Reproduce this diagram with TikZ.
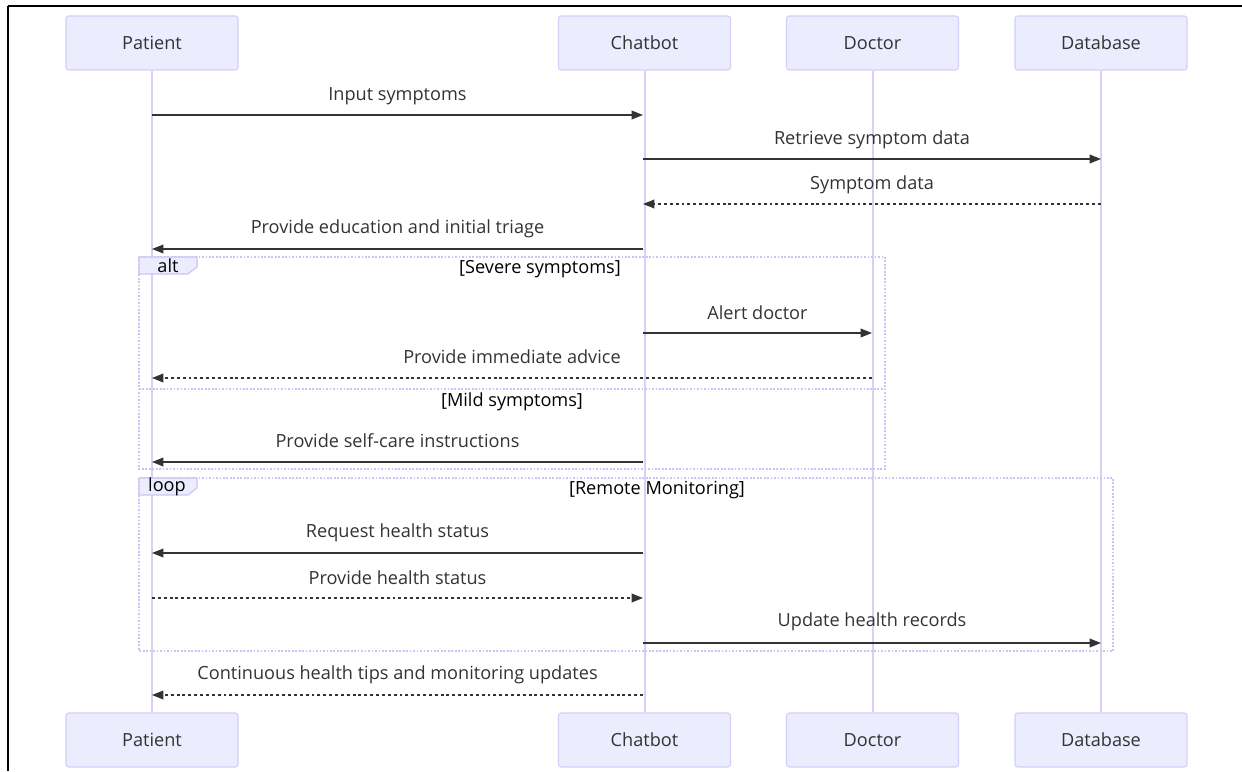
\documentclass[tikz,border=0pt]{standalone}
\usepackage{fontspec}
\setmainfont{Open Sans}
\usetikzlibrary{arrows.meta}
\definecolor{actfill}{HTML}{ECECFF}
\definecolor{actdraw}{HTML}{D6CEF6}
\definecolor{lifeline}{HTML}{D8D0F6}
\definecolor{framec}{HTML}{CCC3F2}
\definecolor{msgc}{HTML}{333333}
\definecolor{txtc}{HTML}{333333}
\tikzset{
  actor/.style={draw=actdraw, fill=actfill, line width=0.8pt, rounded corners=2pt,
    minimum width=129pt, minimum height=40.5pt, inner sep=0pt, font=\fontsize{13.6pt}{15pt}\selectfont, text=txtc},
  life/.style={draw=lifeline, line width=1.5pt},
  msg/.style={draw=msgc, line width=1.1pt, -{Triangle[length=8.5pt,width=6.5pt]}},
  reply/.style={msg, dash pattern=on 2.2pt off 2.2pt},
  mlabel/.style={font=\fontsize{13.6pt}{15pt}\selectfont, text=txtc, inner sep=0pt},
  flabel/.style={font=\fontsize{13.6pt}{15pt}\selectfont, text=black, inner sep=0pt},
  frame/.style={draw=framec, line width=1pt, dash pattern=on 1.3pt off 1.3pt},
  tagbox/.style={draw=framec, fill=actfill, line width=0.8pt},
}
\begin{document}
\begin{tikzpicture}[x=0.75pt,y=-0.75pt]
\useasboundingbox (0,0) rectangle (1242,771);
% border
\draw[line width=2.2pt] (8,6) -- (1242,6);
\draw[line width=2.2pt] (8,6) -- (8,771);
% actors top
\node[actor] (pT) at (152,43) {Patient};
\node[actor] (cT) at (644.5,43) {Chatbot};
\node[actor] (dT) at (872.5,43) {Doctor};
\node[actor] (bT) at (1101,43) {Database};
% actors bottom
\node[actor] (pB) at (152,740) {Patient};
\node[actor] (cB) at (644.5,740) {Chatbot};
\node[actor] (dB) at (872.5,740) {Doctor};
\node[actor] (bB) at (1101,740) {Database};
% lifelines
\draw[life] (pT.south) -- (pB.north);
\draw[life] (cT.south) -- (cB.north);
\draw[life] (dT.south) -- (dB.north);
\draw[life] (bT.south) -- (bB.north);
% frames
\draw[frame] (139,257) rectangle (885,469);
\draw[frame] (139,389) -- (885,389);
\draw[tagbox] (139,257) -- (197,257) -- (197,267) -- (188,274) -- (139,274) -- cycle;
\node[flabel] (altl) at (168,266) {alt};
\node[flabel] (sev) at (540,269) {[Severe symptoms]};
\node[flabel] (mild) at (512,402) {[Mild symptoms]};
\draw[frame] (139,478) rectangle (1113,651);
\draw[tagbox] (139,478) -- (197,478) -- (197,488) -- (188,495) -- (139,495) -- cycle;
\node[flabel] (loopl) at (167,487) {loop};
\node[flabel] (rem) at (657,490) {[Remote Monitoring]};
% message coordinates
\coordinate (p1) at (152,115); \coordinate (c1) at (643,115);
\coordinate (c2) at (643,159); \coordinate (b2) at (1101,159);
\coordinate (b3) at (1101,204); \coordinate (c3) at (643,204);
\coordinate (c4) at (643,249); \coordinate (p4) at (152,249);
\coordinate (c5) at (643,333); \coordinate (d5) at (872,333);
\coordinate (d6) at (872,378); \coordinate (p6) at (152,378);
\coordinate (c7) at (643,462); \coordinate (p7) at (152,462);
\coordinate (c8) at (643,553); \coordinate (p8) at (152,553);
\coordinate (p9) at (152,598); \coordinate (c9) at (643,598);
\coordinate (c10) at (643,643); \coordinate (b10) at (1101,643);
\coordinate (c11) at (643,695); \coordinate (p11) at (152,695);
% messages
\draw[msg] (p1) -- (c1);
\node[mlabel] (l1) at (397.5,96) {Input symptoms};
\draw[msg] (c2) -- (b2);
\node[mlabel] (l2) at (872,140) {Retrieve symptom data};
\draw[reply] (b3) -- (c3);
\node[mlabel] (l3) at (872,185) {Symptom data};
\draw[msg] (c4) -- (p4);
\node[mlabel] (l4) at (397.5,229) {Provide education and initial triage};
\draw[msg] (c5) -- (d5);
\node[mlabel] (l5) at (757.5,313) {Alert doctor};
\draw[reply] (d6) -- (p6);
\node[mlabel] (l6) at (512,357) {Provide immediate advice};
\draw[msg] (c7) -- (p7);
\node[mlabel] (l7) at (397.5,441) {Provide self-care instructions};
\draw[msg] (c8) -- (p8);
\node[mlabel] (l8) at (397.5,533) {Request health status};
\draw[reply] (p9) -- (c9);
\node[mlabel] (l9) at (397.5,578) {Provide health status};
\draw[msg] (c10) -- (b10);
\node[mlabel] (l10) at (872,622) {Update health records};
\draw[reply] (c11) -- (p11);
\node[mlabel] (l11) at (397.5,675) {Continuous health tips and monitoring updates};
\end{tikzpicture}
\end{document}
